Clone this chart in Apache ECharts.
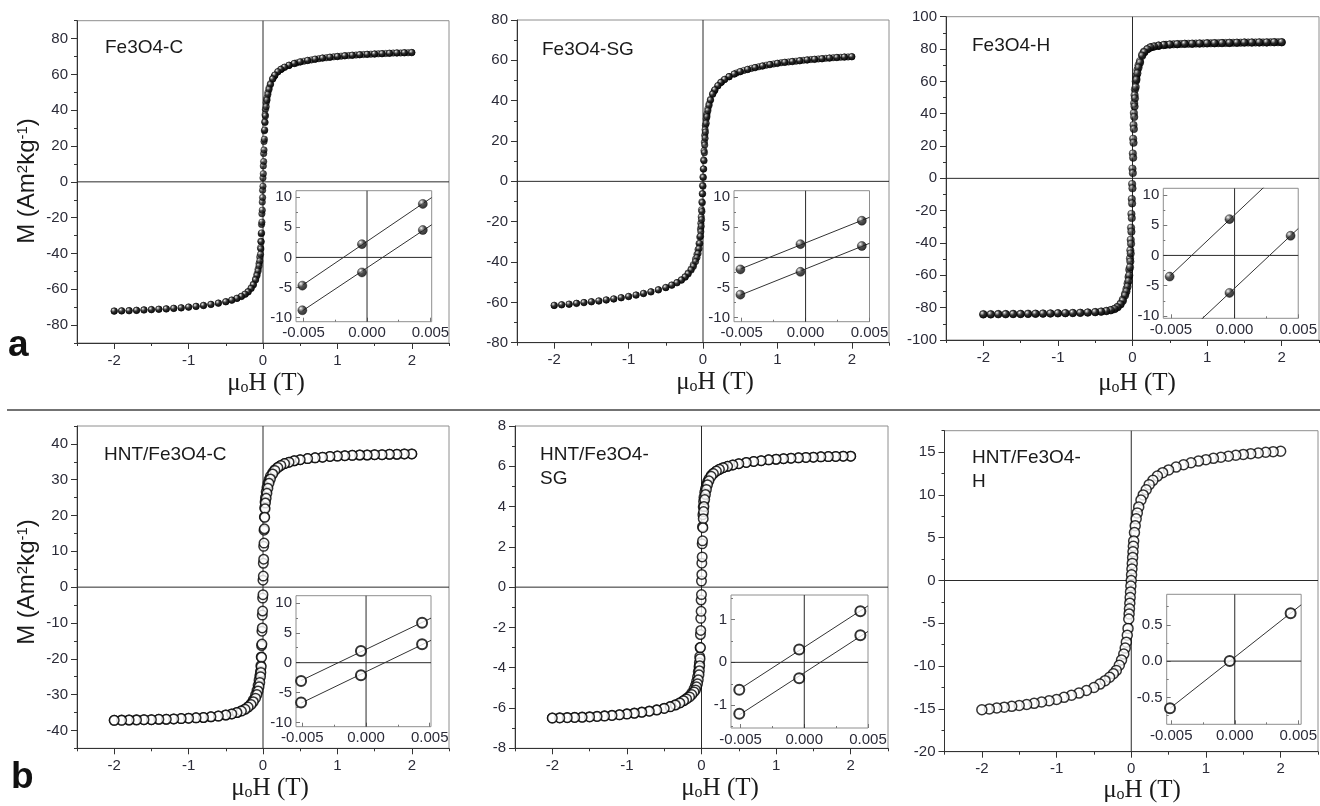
<!DOCTYPE html>
<html>
<head>
<meta charset="utf-8">
<script src="https://cdn.jsdelivr.net/npm/echarts@6/dist/echarts.min.js"></script>
<style>
  html, body { margin: 0; padding: 0; background: #fff; }
  #chart { width: 1320px; height: 806px; }
</style>
</head>
<body>
<div id="chart"></div>
<script>
// Applied field of every loop point (T), from +2 T down to -2 T
const fieldSweep = [
  2, 1.9, 1.8, 1.7, 1.6, 1.5, 1.4, 1.3, 1.2, 1.1,
  1, 0.9, 0.8, 0.7, 0.6, 0.5, 0.42, 0.35, 0.29, 0.24,
  0.2, 0.16, 0.13, 0.1, 0.081, 0.066, 0.053, 0.043, 0.0326, 0.0279,
  0.0232, 0.0185, 0.0138, 0.0091, 0.0044, -0.0004, -0.0051, -0.0098, -0.0145, -0.0192,
  -0.0239, -0.0286, -0.0333, -0.043, -0.053, -0.066, -0.081, -0.1, -0.13, -0.16,
  -0.2, -0.24, -0.29, -0.35, -0.42, -0.5, -0.6, -0.7, -0.8, -0.9,
  -1, -1.1, -1.2, -1.3, -1.4, -1.5, -1.6, -1.7, -1.8, -1.9,
  -2
];
// Field points of the initial magnetization run (T)
const virginField = [
  0.05, 0.15, 0.25, 0.35, 0.45, 0.55, 0.65, 0.75, 0.85, 0.95,
  1.05, 1.15, 1.25, 1.35, 1.45, 1.55, 1.65, 1.75, 1.85, 1.95
];

// Magnetization (Am2/kg) at each field point: descending (down) and ascending (up) branch
const fe3o4C_down = [
  72.2, 72.1, 72.0, 71.8, 71.6, 71.4, 71.2, 71.0, 70.7, 70.4,
  70.0, 69.6, 69.1, 68.5, 67.8, 67.0, 66.1, 65.1, 64.0, 62.8,
  61.5, 59.6, 57.6, 54.8, 52.4, 49.9, 47.0, 44.2, 40.5, 37.5,
  33.5, 28.5, 22.5, 15.8, 8.9, 2.2, -4.7, -11.3, -17.8, -23.8,
  -29.0, -33.2, -36.8, -42.0, -45.6, -48.8, -51.6, -54.3, -57.2, -59.3,
  -61.3, -62.7, -63.9, -65.0, -66.0, -66.9, -67.7, -68.4, -69.0, -69.5,
  -69.9, -70.3, -70.6, -70.9, -71.1, -71.3, -71.5, -71.7, -71.9, -72.0,
  -72.1
];
const fe3o4C_up = [
  72.2, 72.1, 72.0, 71.8, 71.6, 71.4, 71.2, 71.0, 70.7, 70.4,
  70.0, 69.6, 69.1, 68.5, 67.8, 67.0, 66.1, 65.1, 64.0, 62.8,
  61.5, 59.6, 57.4, 54.3, 51.6, 48.8, 45.6, 42.0, 36.8, 33.2,
  29.0, 23.8, 17.8, 11.3, 4.55, -2.5, -8.8, -15.8, -22.5, -28.5,
  -33.5, -37.5, -40.5, -44.2, -47.0, -49.9, -52.4, -54.8, -57.6, -59.6,
  -61.5, -62.8, -64.0, -65.1, -66.1, -67.0, -67.8, -68.5, -69.1, -69.6,
  -70.0, -70.4, -70.7, -71.0, -71.2, -71.4, -71.6, -71.8, -72.0, -72.1,
  -72.2
];
const fe3o4C_virgin = [
  46.0, 58.9, 63.0, 65.0, 66.4, 67.4, 68.1, 68.8, 69.3, 69.8,
  70.2, 70.5, 70.8, 71.1, 71.3, 71.5, 71.7, 71.9, 72.0, 72.1
];
const fe3o4SG_down = [
  61.8, 61.6, 61.4, 61.1, 60.8, 60.5, 60.2, 59.8, 59.4, 59.0,
  58.5, 57.9, 57.2, 56.4, 55.5, 54.4, 53.2, 51.9, 50.5, 49.0,
  47.4, 45.4, 43.4, 40.6, 38.3, 36.0, 33.5, 31.0, 27.8, 25.6,
  22.8, 19.5, 15.2, 10.6, 6.1, 2.2, -2.0, -6.1, -10.2, -14.1,
  -17.6, -20.8, -23.6, -27.6, -30.8, -33.8, -36.2, -38.5, -41.4, -43.5,
  -45.5, -47.3, -48.8, -50.2, -51.4, -52.6, -53.8, -54.8, -55.6, -56.4,
  -57.1, -57.7, -58.3, -58.8, -59.3, -59.7, -60.1, -60.5, -60.9, -61.2,
  -61.5
];
const fe3o4SG_up = [
  61.8, 61.6, 61.4, 61.1, 60.8, 60.5, 60.2, 59.8, 59.4, 59.0,
  58.5, 57.9, 57.2, 56.4, 55.5, 54.4, 53.2, 51.9, 50.5, 49.0,
  47.4, 45.3, 43.2, 40.2, 37.6, 35.0, 32.0, 28.8, 24.4, 21.4,
  18.0, 14.2, 10.2, 6.1, 1.9, -2.4, -6.2, -10.6, -15.0, -19.0,
  -22.3, -25.0, -27.2, -30.8, -33.4, -35.8, -37.8, -39.8, -42.2, -44.0,
  -45.9, -47.5, -49.0, -50.3, -51.5, -52.7, -53.8, -54.8, -55.6, -56.4,
  -57.1, -57.7, -58.3, -58.8, -59.3, -59.7, -60.1, -60.5, -60.9, -61.2,
  -61.5
];
const fe3o4SG_virgin = [
  32.8, 44.7, 49.3, 51.9, 53.7, 55.0, 56.0, 56.8, 57.6, 58.2,
  58.8, 59.2, 59.6, 60.0, 60.4, 60.7, 61.0, 61.3, 61.5, 61.7
];
const fe3o4H_down = [
  84.2, 84.2, 84.1, 84.1, 84.0, 84.0, 83.9, 83.8, 83.7, 83.6,
  83.5, 83.4, 83.3, 83.2, 83.0, 82.8, 82.5, 82.1, 81.6, 81.0,
  80.0, 78.5, 76.5, 72.5, 70.0, 67.0, 63.5, 60.0, 55.0, 51.5,
  46.5, 40.5, 33.0, 24.5, 15.4, 6.0, -3.5, -12.8, -22.0, -30.5,
  -38.0, -44.5, -49.5, -56.5, -61.0, -65.0, -68.5, -71.5, -75.0, -77.5,
  -79.5, -80.7, -81.5, -82.0, -82.4, -82.7, -83.0, -83.2, -83.3, -83.4,
  -83.5, -83.6, -83.6, -83.7, -83.7, -83.8, -83.8, -83.9, -83.9, -84.0,
  -84.0
];
const fe3o4H_up = [
  84.2, 84.2, 84.1, 84.1, 84.0, 84.0, 83.9, 83.8, 83.7, 83.6,
  83.5, 83.4, 83.3, 83.2, 83.0, 82.8, 82.5, 82.1, 81.6, 81.0,
  79.8, 78.0, 75.8, 71.5, 68.5, 65.0, 61.0, 56.5, 49.5, 44.5,
  38.0, 30.5, 22.0, 12.8, 3.25, -6.2, -15.5, -24.6, -33.0, -40.5,
  -46.5, -51.5, -55.0, -60.0, -63.5, -67.0, -70.0, -72.5, -75.8, -78.0,
  -79.8, -80.9, -81.6, -82.1, -82.5, -82.8, -83.0, -83.2, -83.3, -83.4,
  -83.5, -83.6, -83.7, -83.8, -83.9, -84.0, -84.0, -84.1, -84.1, -84.2,
  -84.2
];
const fe3o4H_virgin = [
  62.0, 78.0, 81.1, 82.1, 82.6, 82.9, 83.1, 83.25, 83.35, 83.45,
  83.55, 83.65, 83.75, 83.85, 83.95, 84.0, 84.05, 84.1, 84.15, 84.2
];
const hntC_down = [
  37.2, 37.2, 37.1, 37.1, 37.0, 37.0, 36.9, 36.9, 36.8, 36.7,
  36.6, 36.5, 36.3, 36.1, 35.9, 35.6, 35.3, 34.9, 34.5, 34.0,
  33.5, 32.8, 32.0, 31.0, 30.0, 29.0, 27.8, 26.6, 25.0, 23.8,
  22.2, 19.6, 15.9, 11.4, 6.67, 1.95, -3.05, -7.8, -12.3, -16.3,
  -19.5, -21.9, -23.5, -24.8, -26.0, -27.4, -28.8, -30.1, -31.5, -32.5,
  -33.4, -34.0, -34.5, -35.0, -35.4, -35.7, -36.0, -36.2, -36.4, -36.5,
  -36.6, -36.7, -36.8, -36.9, -36.9, -37.0, -37.0, -37.0, -37.1, -37.1,
  -37.2
];
const hntC_up = [
  37.2, 37.2, 37.1, 37.1, 37.0, 37.0, 36.9, 36.9, 36.8, 36.7,
  36.6, 36.5, 36.3, 36.1, 35.9, 35.6, 35.3, 34.9, 34.5, 34.0,
  33.4, 32.6, 31.6, 30.2, 29.0, 27.6, 26.2, 24.8, 23.5, 21.9,
  19.5, 16.3, 12.3, 7.8, 3.1, -2.1, -6.67, -11.4, -15.9, -19.6,
  -22.2, -23.8, -25.0, -26.6, -27.8, -29.0, -30.0, -31.0, -32.0, -32.8,
  -33.5, -34.1, -34.6, -35.0, -35.4, -35.7, -36.0, -36.2, -36.4, -36.5,
  -36.6, -36.7, -36.8, -36.9, -36.9, -37.0, -37.0, -37.1, -37.1, -37.2,
  -37.2
];
const hntSG_down = [
  6.50, 6.50, 6.49, 6.48, 6.47, 6.45, 6.44, 6.42, 6.40, 6.38,
  6.35, 6.32, 6.28, 6.24, 6.19, 6.13, 6.07, 6.00, 5.93, 5.85,
  5.77, 5.66, 5.55, 5.38, 5.22, 5.06, 4.88, 4.70, 4.45, 4.25,
  3.98, 3.60, 3.00, 2.15, 1.19, 0.30, -0.64, -1.55, -2.35, -3.00,
  -3.45, -3.75, -3.95, -4.20, -4.45, -4.68, -4.88, -5.05, -5.25, -5.40,
  -5.52, -5.63, -5.74, -5.84, -5.93, -6.01, -6.09, -6.15, -6.20, -6.25,
  -6.29, -6.33, -6.36, -6.39, -6.41, -6.43, -6.45, -6.46, -6.47, -6.48,
  -6.49
];
const hntSG_up = [
  6.50, 6.50, 6.49, 6.48, 6.47, 6.45, 6.44, 6.42, 6.40, 6.38,
  6.35, 6.32, 6.28, 6.24, 6.19, 6.13, 6.07, 6.00, 5.93, 5.85,
  5.76, 5.64, 5.50, 5.28, 5.08, 4.85, 4.60, 4.35, 4.00, 3.75,
  3.40, 2.95, 2.30, 1.50, 0.63, -0.37, -1.20, -2.15, -3.00, -3.55,
  -3.90, -4.15, -4.35, -4.60, -4.80, -4.95, -5.10, -5.20, -5.33, -5.45,
  -5.55, -5.64, -5.75, -5.85, -5.94, -6.02, -6.10, -6.16, -6.21, -6.26,
  -6.30, -6.34, -6.37, -6.40, -6.42, -6.44, -6.46, -6.47, -6.48, -6.49,
  -6.50
];
// Both branches of this sample coincide, so a single sweep is kept
const hntH_sweep = [
  15.1, 15.05, 14.98, 14.9, 14.82, 14.73, 14.63, 14.52, 14.4, 14.27,
  14.12, 13.95, 13.75, 13.52, 13.25, 12.92, 12.6, 12.2, 11.7, 11.2,
  10.6, 10.0, 9.4, 8.6, 7.9, 7.2, 6.4, 5.6, 4.6, 4.0,
  3.35, 2.7, 2.0, 1.33, 0.66, 0.0, -0.65, -1.33, -2.0, -2.65,
  -3.3, -3.9, -4.5, -5.6, -6.4, -7.2, -7.9, -8.6, -9.3, -9.9,
  -10.5, -10.9, -11.3, -11.7, -12.1, -12.5, -12.85, -13.15, -13.4, -13.65,
  -13.9, -14.05, -14.2, -14.35, -14.48, -14.6, -14.7, -14.8, -14.9, -15.0,
  -15.1
];

// Tick values
const fieldTicks = [-2, -1, 0, 1, 2];
const mTicks80 = [-80, -60, -40, -20, 0, 20, 40, 60, 80];
const mTicks100 = [-100, -80, -60, -40, -20, 0, 20, 40, 60, 80, 100];
const mTicks40 = [-40, -30, -20, -10, 0, 10, 20, 30, 40];
const mTicks8 = [-8, -6, -4, -2, 0, 2, 4, 6, 8];
const mTicks15 = [-20, -15, -10, -5, 0, 5, 10, 15];
const zoomFieldTicks = [-0.005, 0, 0.005];
const zoomTicks10 = [-10, -5, 0, 5, 10];
const zoomTicks1 = [-1, 0, 1];
const zoomTicksHalf = [-0.5, 0, 0.5];

const panels = [
  { label: 'Fe3O4-C', labelAt: [105, 36], branches: [fe3o4C_down, fe3o4C_up], virgin: fe3o4C_virgin,
    filled: true, size: 6.5,
    rect: [77, 20.7, 372, 322.3], y: [-90, 90], yTicks: mTicks80,
    zRect: [296, 190.7, 135.7, 131], zx: [-0.0056, 0.0051], zy: [-10.7, 11.1], zyTicks: zoomTicks10, zyDec: 0,
    xTitle: [266, 383] },
  { label: 'Fe3O4-SG', labelAt: [542, 38], branches: [fe3o4SG_down, fe3o4SG_up], virgin: fe3o4SG_virgin,
    filled: true, size: 6.5,
    rect: [517, 20, 372, 322.7], y: [-80, 80], yTicks: mTicks80,
    zRect: [734, 190.7, 135.5, 131], zx: [-0.0056, 0.005], zy: [-10.7, 11.1], zyTicks: zoomTicks10, zyDec: 0,
    xTitle: [715, 382] },
  { label: 'Fe3O4-H', labelAt: [972, 34], branches: [fe3o4H_down, fe3o4H_up], virgin: fe3o4H_virgin,
    filled: true, size: 7.5,
    rect: [946, 16.7, 373, 323.3], y: [-100, 100], yTicks: mTicks100,
    zRect: [1163.3, 188.3, 135, 130], zx: [-0.0056, 0.005], zy: [-10.4, 11.1], zyTicks: zoomTicks10, zyDec: 0,
    xTitle: [1137, 383] },
  { label: 'HNT/Fe3O4-C', labelAt: [104, 443], branches: [hntC_down, hntC_up], filled: false, size: 9.5,
    rect: [77, 426, 372, 322.3], y: [-45, 45], yTicks: mTicks40,
    zRect: [296, 595.7, 135, 131], zx: [-0.0055, 0.0051], zy: [-10.7, 11.2], zyTicks: zoomTicks10, zyDec: 0,
    xTitle: [270, 788] },
  { label: 'HNT/Fe3O4-\nSG', labelAt: [540, 443], branches: [hntSG_down, hntSG_up], filled: false, size: 9.5,
    rect: [515, 426, 373, 322.3], y: [-8, 8], yTicks: mTicks8,
    zRect: [731, 595, 137, 133], zx: [-0.00575, 0.005], zy: [-1.53, 1.57], zyTicks: zoomTicks1, zyDec: 0,
    xTitle: [720, 788] },
  { label: 'HNT/Fe3O4-\nH', labelAt: [972, 446], branches: [hntH_sweep], filled: false, size: 10,
    rect: [944.5, 430.7, 373.5, 321], y: [-20, 17.5], yTicks: mTicks15,
    zRect: [1166.7, 594.3, 135, 130], zx: [-0.00536, 0.00523], zy: [-0.87, 0.92], zyTicks: zoomTicksHalf, zyDec: 1,
    xTitle: [1142, 790] }
];

const FONT = 'Liberation Sans';
const INK = '#1a1a1a';
const TICK_TEXT = '#2b2b38';

// shaded ball used for the bare-particle samples
const sphere = {
  type: 'radial', x: 0.34, y: 0.3, r: 0.75,
  colorStops: [
    { offset: 0, color: '#ffffff' },
    { offset: 0.18, color: '#9a9a9a' },
    { offset: 0.45, color: '#262626' },
    { offset: 1, color: '#000' }
  ]
};

// Half-step tick positions between the labelled ticks, kept inside the axis range
function midTicks(ticks, min, max) {
  const step = ticks[1] - ticks[0];
  const out = [];
  for (let v = ticks[0] - step / 2; v <= max + 1e-12; v += step) {
    if (v >= min - 1e-12) out.push(+v.toFixed(8));
  }
  return out;
}

const grids = [], xAxes = [], yAxes = [], series = [], graphics = [];

function addAxisPair(list, gridIndex, pos, range, ticks, cfg) {
  const idx = list.length;
  list.push({
    type: 'value', gridIndex, position: pos, min: range[0], max: range[1],
    axisLine: { show: cfg.line, onZero: false, lineStyle: { color: '#333', width: 1 } },
    axisTick: { show: true, inside: cfg.inside, length: cfg.tick, customValues: ticks,
      lineStyle: { color: cfg.tickColor, width: 1 } },
    axisLabel: { show: true, customValues: ticks, margin: cfg.margin, fontSize: 15,
      fontFamily: FONT, color: TICK_TEXT, formatter: cfg.fmt },
    splitLine: { show: false }
  });
  list.push({
    type: 'value', gridIndex, position: pos, min: range[0], max: range[1],
    axisLine: { show: false, onZero: false },
    axisTick: { show: true, inside: cfg.inside, length: cfg.tick / 2,
      customValues: midTicks(ticks, range[0], range[1]), lineStyle: { color: cfg.tickColor, width: 1 } },
    axisLabel: { show: false },
    splitLine: { show: false }
  });
  return idx;
}

function markerStyle(filled, zoomed) {
  return filled
    ? { color: sphere, borderColor: '#000', borderWidth: 0.5 }
    : { color: '#fff', borderColor: '#000', borderWidth: zoomed ? 2 : 1.5 };
}

function zeroLines(xi, yi, xr, yr, z) {
  const ls = { color: '#2a2a2a', width: 1 };
  series.push({ type: 'line', xAxisIndex: xi, yAxisIndex: yi, data: [[0, yr[0]], [0, yr[1]]],
    symbol: 'none', lineStyle: ls, silent: true, z, animation: false });
  series.push({ type: 'line', xAxisIndex: xi, yAxisIndex: yi, data: [[xr[0], 0], [xr[1], 0]],
    symbol: 'none', lineStyle: ls, silent: true, z, animation: false });
}

function leastSquares(pts) {
  let sx = 0, sy = 0, sxx = 0, sxy = 0;
  for (const [x, y] of pts) { sx += x; sy += y; sxx += x * x; sxy += x * y; }
  const n = pts.length;
  const b = (n * sxy - sx * sy) / (n * sxx - sx * sx);
  return { a: (sy - b * sx) / n, b };
}

panels.forEach((p) => {
  const fieldRange = [-2.5, 2.5];

  // full loop
  const g = grids.length;
  grids.push({ left: p.rect[0], top: p.rect[1], width: p.rect[2], height: p.rect[3],
    show: true, borderColor: '#8e8e8e', borderWidth: 1, backgroundColor: 'transparent' });
  const xi = addAxisPair(xAxes, g, 'bottom', fieldRange, fieldTicks,
    { line: true, inside: false, tick: 6, tickColor: '#333', margin: 10, fmt: v => String(v) });
  const yi = addAxisPair(yAxes, g, 'left', p.y, p.yTicks,
    { line: true, inside: false, tick: 6, tickColor: '#333', margin: 9, fmt: v => String(v) });
  zeroLines(xi, yi, fieldRange, p.y, 1);
  if (p.virgin) {
    series.push({
      type: 'scatter', xAxisIndex: xi, yAxisIndex: yi,
      data: virginField.map((h, i) => [h, p.virgin[i]]),
      symbol: 'circle', symbolSize: p.size, itemStyle: markerStyle(p.filled, false),
      silent: true, animation: false, z: 3
    });
  }
  p.branches.forEach((m) => {
    series.push({
      type: 'scatter', xAxisIndex: xi, yAxisIndex: yi,
      data: fieldSweep.map((h, i) => [h, m[i]]),
      symbol: 'circle', symbolSize: p.size, itemStyle: markerStyle(p.filled, false),
      silent: true, animation: false, z: 3
    });
  });

  // low-field close-up
  const gz = grids.length;
  grids.push({ left: p.zRect[0], top: p.zRect[1], width: p.zRect[2], height: p.zRect[3],
    show: true, borderColor: '#8e8e8e', borderWidth: 1, backgroundColor: '#fff' });
  const zxi = addAxisPair(xAxes, gz, 'bottom', p.zx, zoomFieldTicks,
    { line: false, inside: true, tick: 4, tickColor: '#777', margin: 4, fmt: v => v.toFixed(3) });
  const zyi = addAxisPair(yAxes, gz, 'left', p.zy, p.zyTicks,
    { line: false, inside: true, tick: 4, tickColor: '#777', margin: 4, fmt: v => v.toFixed(p.zyDec) });
  zeroLines(zxi, zyi, p.zx, p.zy, 4);
  p.branches.forEach((m) => {
    const pts = fieldSweep.map((h, i) => [h, m[i]]).filter(([h]) => h >= p.zx[0] && h <= p.zx[1]);
    const fit = leastSquares(pts);
    const x0 = Math.min(...pts.map(q => q[0]));
    const x1 = p.zx[1];
    series.push({ type: 'line', xAxisIndex: zxi, yAxisIndex: zyi,
      data: [[x0, fit.a + fit.b * x0], [x1, fit.a + fit.b * x1]],
      symbol: 'none', lineStyle: { color: '#333', width: 1 }, clip: true, silent: true, z: 5, animation: false });
    series.push({ type: 'scatter', xAxisIndex: zxi, yAxisIndex: zyi, data: pts,
      symbol: 'circle', symbolSize: p.filled ? 9 : 10, itemStyle: markerStyle(p.filled, true),
      clip: true, silent: true, z: 6, animation: false });
  });

  // sample name
  graphics.push({ type: 'text', x: p.labelAt[0], y: p.labelAt[1], silent: true,
    style: { text: p.label, fontSize: 19, fontFamily: FONT, fill: INK, align: 'left',
      verticalAlign: 'top', lineHeight: 24 } });
  // field axis title
  graphics.push({ type: 'text', x: p.xTitle[0], y: p.xTitle[1], silent: true,
    style: { text: '{m|μ}{o|o}{m|H (T)}', align: 'center', verticalAlign: 'middle',
      rich: {
        m: { fontSize: 25, fontFamily: 'Liberation Serif', fill: INK },
        o: { fontSize: 16, fontFamily: 'Liberation Serif', fill: INK, verticalAlign: 'bottom' }
      } } });
});

// magnetization axis titles
[[27, 181], [27, 582]].forEach(([x, y]) => {
  graphics.push({ type: 'text', x, y, rotation: Math.PI / 2, silent: true,
    style: { text: '{t|M (Am}{s|2}{t|kg}{s|-1}{t|)}', align: 'center', verticalAlign: 'middle',
      rich: {
        t: { fontSize: 24, fontFamily: FONT, fill: INK },
        s: { fontSize: 15, fontFamily: FONT, fill: INK, verticalAlign: 'top' }
      } } });
});

// row letters and the divider between the rows
graphics.push({ type: 'text', x: 8, y: 346, silent: true,
  style: { text: 'a', fontSize: 37, fontWeight: 'bold', fontFamily: FONT, fill: '#111',
    align: 'left', verticalAlign: 'middle' } });
graphics.push({ type: 'text', x: 11, y: 778, silent: true,
  style: { text: 'b', fontSize: 37, fontWeight: 'bold', fontFamily: FONT, fill: '#111',
    align: 'left', verticalAlign: 'middle' } });
graphics.push({ type: 'line', silent: true, shape: { x1: 7, y1: 410, x2: 1320, y2: 410 },
  style: { stroke: '#444', lineWidth: 1.5 } });

const chart = echarts.init(document.getElementById('chart'), null, { renderer: 'canvas' });
chart.setOption({
  backgroundColor: '#fff',
  animation: false,
  textStyle: { fontFamily: FONT },
  grid: grids,
  xAxis: xAxes,
  yAxis: yAxes,
  series,
  graphic: { elements: graphics }
});
</script>
</body>
</html>
